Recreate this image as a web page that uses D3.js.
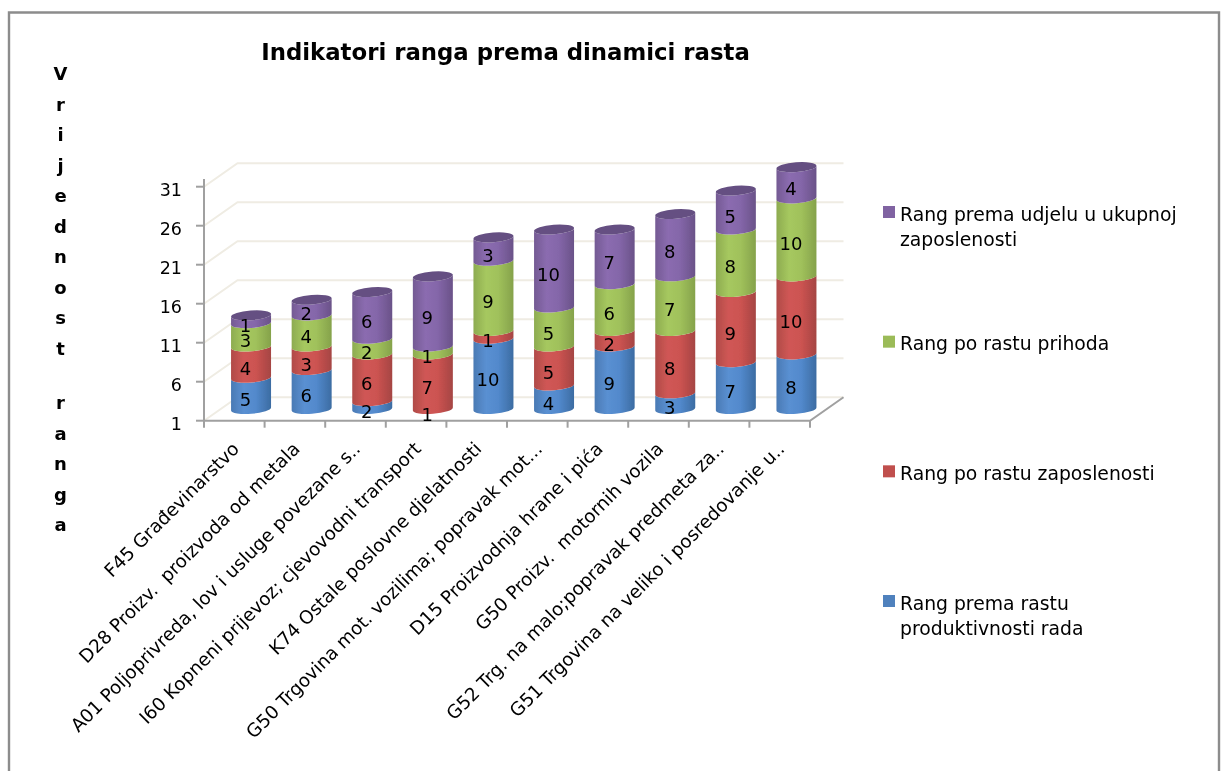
<!DOCTYPE html>
<html><head><meta charset="utf-8">
<script src="https://cdn.jsdelivr.net/npm/d3@7"></script>
<style>
html,body{margin:0;padding:0;background:#fff}
svg{display:block}
text{font-family:"DejaVu Sans",sans-serif;fill:#000}
.cat{white-space:pre}
</style></head><body>
<svg id="c" width="1221" height="771"></svg>
<script>
const categories=["F45 Građevinarstvo","D28 Proizv.  proizvoda od metala","A01 Poljoprivreda, lov i usluge povezane s..","I60 Kopneni prijevoz; cjevovodni transport","K74 Ostale poslovne djelatnosti","G50 Trgovina mot. vozilima; popravak mot...","D15 Proizvodnja hrane i pića","G50 Proizv.  motornih vozila","G52 Trg. na malo;popravak predmeta za..","G51 Trgovina na veliko i posredovanje u.."];
const produktivnost=[5,6,2,1,10,4,9,3,7,8];
const zaposlenost=[4,3,6,7,1,5,2,8,9,10];
const prihodi=[3,4,2,1,9,5,6,7,8,10];
const udio=[1,2,6,9,3,10,7,8,5,4];
const seriesKeys=["produktivnost","zaposlenost","prihodi","udio"];
const seriesValues=[produktivnost,zaposlenost,prihodi,udio];
const legendLines=[["Rang prema rastu","produktivnosti rada"],["Rang po rastu zaposlenosti"],["Rang po rastu prihoda"],["Rang prema udjelu u ukupnoj","zaposlenosti"]];
const seriesColors=["#4f81bd","#c0504d","#9bbb59","#8064a2"];
const gradientStops=[["#4a7ab4","#5a90d2","#5289cc","#3c6ca2"],["#b04b48","#d05755","#cc5351","#a54543"],["#8dab50","#a6c85f","#a0c15b","#85a24b"],["#745a93","#8b6cb0","#8466a9","#6a5288"]];
const capColor="#654f82";
const yTicks=[1,6,11,16,21,26,31];
const titleText="Indikatori ranga prema dinamici rasta";
const yTitle="Vrijednost ranga";

const svg=d3.select("#c");
const defs=svg.append("defs");
defs.append("filter").attr("id","soft").attr("filterUnits","userSpaceOnUse")
  .attr("x",0).attr("y",0).attr("width",1221).attr("height",771)
  .append("feGaussianBlur").attr("stdDeviation",0.4);
const root=svg.append("g").attr("filter","url(#soft)");
const gx0=204,gx1=810,gyB=420.7,gyT=178.9,depthX=33.5,depthY=-23.5;
const x=d3.scaleBand().domain(d3.range(categories.length)).range([gx0,gx1]).paddingInner(.34).paddingOuter(.17);
const y=d3.scaleLinear().domain([1,32]).range([gyB,gyT]);
const midDx=depthX/2,midDy=depthY/2;

// frame
root.append("path").attr("d","M9 775V12.5H1219V775").attr("fill","none").attr("stroke","#8c8c8c").attr("stroke-width",2.4);

// walls
const gridColor="#efece3";
const grid=root.append("g").attr("fill","none").attr("stroke",gridColor).attr("stroke-width",2);
yTicks.forEach(t=>{
  const p=d3.path();p.moveTo(gx0,y(t));p.lineTo(gx0+depthX,y(t)+depthY);p.lineTo(gx1+depthX,y(t)+depthY);
  grid.append("path").attr("d",p.toString());
});

// axes
const ax=root.append("g").attr("stroke","#a0a0a0").attr("stroke-width",2).attr("fill","none");
ax.append("path").attr("d",`M${gx0} ${gyT}V${gyB}H${gx1}L${gx1+depthX} ${gyB+depthY}`);
yTicks.forEach(t=>ax.append("line").attr("x1",gx0-8).attr("x2",gx0).attr("y1",y(t)).attr("y2",y(t)));
const step=x.step();
d3.range(categories.length+1).forEach(i=>ax.append("line").attr("x1",gx0+i*step).attr("x2",gx0+i*step).attr("y1",gyB).attr("y2",gyB+7));

root.append("g").selectAll("text").data(yTicks).join("text")
  .attr("x",182).attr("y",d=>y(d)+9).attr("text-anchor","end").attr("font-size",17.5).text(d=>d);

// cylinders
seriesKeys.forEach((k,i)=>{
  const g=defs.append("linearGradient").attr("id","g"+i).attr("x1",0).attr("x2",1).attr("y1",0).attr("y2",0);
  [0,.32,.62,1].forEach((o,j)=>g.append("stop").attr("offset",o).attr("stop-color",gradientStops[i][j]));
});
const table=categories.map((c,i)=>{const o={i};seriesKeys.forEach((k,s)=>o[k]=seriesValues[s][i]);return o;});
const stack=d3.stack().keys(seriesKeys)(table);
const rx=x.bandwidth()/2,ry=4.8,tilt=1.5;
const rot=-Math.atan2(tilt,rx)*180/Math.PI;
const arcR=Math.hypot(rx,tilt);
const bars=root.append("g");
function yy(v){return y(Math.max(v,1))+midDy;}
stack.forEach((s,si)=>{
  bars.append("g").selectAll("path").data(s).join("path")
   .attr("fill",`url(#g${si})`)
   .attr("d",d=>{
     const c=x(d.data.i)+rx+midDx, y0=yy(d[0]), y1=yy(d[1]);
     return `M${c-rx} ${y0+tilt}A${arcR} ${ry} ${rot} 0 0 ${c+rx} ${y0-tilt}L${c+rx} ${y1-tilt}A${arcR} ${ry} ${rot} 0 1 ${c-rx} ${y1+tilt}Z`;
   });
});
bars.append("g").selectAll("ellipse").data(stack[3]).join("ellipse")
  .attr("cx",0).attr("cy",0).attr("rx",arcR).attr("ry",ry).attr("fill",capColor)
  .attr("transform",d=>`translate(${x(d.data.i)+rx+midDx},${yy(d[1])}) rotate(${rot})`);

// data labels
const lab=root.append("g");
stack.forEach((s,si)=>{
  lab.append("g").selectAll("text").data(s).join("text")
   .attr("x",d=>x(d.data.i)+rx+midDx-5.5)
   .attr("y",d=>(yy(d[0])+yy(d[1]))/2+12.5)
   .attr("text-anchor","middle").attr("font-size",18)
   .text(d=>d[1]-d[0]);
});

// category labels
root.append("g").selectAll("text").data(categories).join("text")
  .attr("class","cat").attr("xml:space","preserve")
  .attr("text-anchor","end").attr("font-size",18.4)
  .attr("transform",(d,i)=>`translate(${x(i)+rx+6},450) rotate(-45)`)
  .text(d=>d);

// title
root.append("text").attr("x",505.5).attr("y",60).attr("text-anchor","middle")
  .attr("font-size",22.8).attr("font-weight","bold").text(titleText);

// y title, one letter per line
let ly=80;
const yt=root.append("g");
Array.from(yTitle).forEach(ch=>{
  if(ch===" "){ly+=23.5;return;}
  yt.append("text").attr("x",60.5).attr("y",ly).attr("text-anchor","middle").attr("font-size",18).attr("font-weight","bold").text(ch);
  ly+=30.55;
});

// legend
const ly0=d3.scaleLinear().domain([0,3]).range([212,601]);
const lg=root.append("g");
[3,2,1,0].forEach(i=>{
  const cy=ly0(3-i);
  lg.append("rect").attr("x",883).attr("y",cy-6).attr("width",12).attr("height",12).attr("fill",seriesColors[i]);
  legendLines[i].forEach((t,j)=>lg.append("text").attr("x",900).attr("y",cy+8.5+j*25).attr("font-size",18.8).text(t));
});
</script></body></html>
